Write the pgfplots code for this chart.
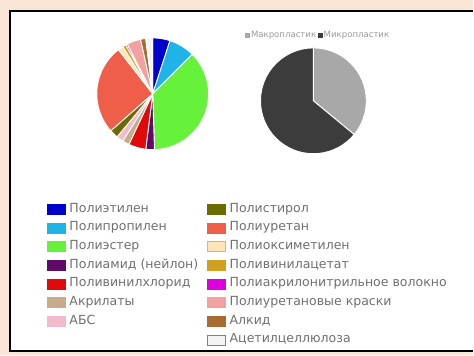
\documentclass[border=0pt]{standalone}
\usepackage{pgfplots}
\pgfplotsset{compat=1.18}
\usepackage{pgfplotstable}
\usepackage{fontspec}
\setmainfont{DejaVu Sans}
\definecolor{peach}{HTML}{FBE5D6}
\definecolor{txt}{HTML}{707070}
\definecolor{pc1}{HTML}{0000CC}
\definecolor{pc2}{HTML}{1EB4E8}
\definecolor{pc3}{HTML}{66F23A}
\definecolor{pc4}{HTML}{5E0A66}
\definecolor{pc5}{HTML}{E00A0A}
\definecolor{pc6}{HTML}{C8AA8C}
\definecolor{pc7}{HTML}{F2BACA}
\definecolor{pc8}{HTML}{6B6B00}
\definecolor{pc9}{HTML}{EF5E48}
\definecolor{pc10}{HTML}{FFE4B8}
\definecolor{pc11}{HTML}{D2A021}
\definecolor{pc12}{HTML}{DD00DD}
\definecolor{pc13}{HTML}{F3A0A0}
\definecolor{pc14}{HTML}{A66C34}
\definecolor{pc15}{HTML}{F4F4F4}
\definecolor{pc16}{HTML}{A8A8A8}
\definecolor{pc17}{HTML}{3C3C3C}
\pgfdeclareplotmark{nothing}{}
% left pie: value (%), cumulative start (%), colour index
\pgfplotstableread{
cx  cy  r  start value col
153 262 56 0     5     1
153 262 56 5     7.5   2
153 262 56 12.5  37    3
153 262 56 49.5  2.5   4
153 262 56 52    5     5
153 262 56 57    2     6
153 262 56 59    2     7
153 262 56 61    2.5   8
153 262 56 63.5  26    9
153 262 56 89.5  1.5   10
153 262 56 91    1     11
153 262 56 92    0.5   12
153 262 56 92.5  4     13
153 262 56 96.5  1.5   14
153 262 56 98    2     15
}\leftpie
% right pie
\pgfplotstableread{
cx  cy  r  start value col
314 255 53 0     36    16
314 255 53 36    64    17
}\rightpie
\pgfplotsset{
  pieslices/.style={
    scatter, only marks, mark=nothing, forget plot,
    visualization depends on={\thisrow{start} \as \sS},
    visualization depends on={\thisrow{value} \as \vV},
    visualization depends on={\thisrow{r} \as \rR},
    visualization depends on={\thisrow{col} \as \cC},
    scatter/@pre marker code/.code={%
      \pgfmathsetmacro\aS{90-3.6*\sS}%
      \pgfmathsetmacro\aE{90-3.6*(\sS+\vV)}%
      \pgfmathtruncatemacro\ci{\cC}%
      \fill[fill=pc\ci, draw=white, line width=0.9bp, line join=round]
        (0,0) -- (\aS:\rR bp) arc[start angle=\aS, end angle=\aE, radius=\rR bp] -- cycle;
    },
    scatter/@post marker code/.code={},
  },
  base/.style={
    at={(0,0)}, anchor=south west, width=474bp, height=356bp, scale only axis,
    xmin=0, xmax=474, ymin=0, ymax=356, hide axis, clip=false,
  },
}
\begin{document}
\begin{tikzpicture}[x=1bp,y=1bp]
\fill[peach] (0,0) rectangle (474,356);
\fill[white] (10,4) rectangle (474,345);
\draw[black, line width=1.8bp] (474,345) -- (10,345) -- (10,4) -- (474,4);
\begin{axis}[base,
  legend image code/.code={\draw[#1] (0bp,-5bp) rectangle (18bp,5bp);},
  legend cell align=left,
  legend columns=2,
  legend style={at={(47/474,152.5/356)}, anchor=north west, draw=none, fill=none,
    inner sep=0pt, font=\fontsize{12.6}{14}\selectfont, text=txt,
    nodes={inner sep=0pt, text height=9bp, text depth=3bp},
    row sep=6.7bp, column sep=4bp,
    /tikz/every even column/.append style={column sep=9bp}},
]
\addplot[pieslices] table[x=cx, y=cy] {\leftpie};
\addlegendimage{fill=pc1, draw=pc1}\addlegendentry{Полиэтилен}
\addlegendimage{fill=pc8, draw=pc8}\addlegendentry{Полистирол}
\addlegendimage{fill=pc2, draw=pc2}\addlegendentry{Полипропилен}
\addlegendimage{fill=pc9, draw=pc9}\addlegendentry{Полиуретан}
\addlegendimage{fill=pc3, draw=pc3}\addlegendentry{Полиэстер}
\addlegendimage{fill=pc10, draw=pc10!80!black}\addlegendentry{Полиоксиметилен}
\addlegendimage{fill=pc4, draw=pc4}\addlegendentry{Полиамид (нейлон)}
\addlegendimage{fill=pc11, draw=pc11}\addlegendentry{Поливинилацетат}
\addlegendimage{fill=pc5, draw=pc5}\addlegendentry{Поливинилхлорид}
\addlegendimage{fill=pc12, draw=pc12}\addlegendentry{Полиакрилонитрильное волокно}
\addlegendimage{fill=pc6, draw=pc6}\addlegendentry{Акрилаты}
\addlegendimage{fill=pc13, draw=pc13}\addlegendentry{Полиуретановые краски}
\addlegendimage{fill=pc7, draw=pc7}\addlegendentry{АБС}
\addlegendimage{fill=pc14, draw=pc14}\addlegendentry{Алкид}
\addlegendimage{empty legend}\addlegendentry{}
\addlegendimage{fill=pc15, draw=gray}\addlegendentry{Ацетилцеллюлоза}
\end{axis}
\begin{axis}[base,
  legend image code/.code={\draw[#1] (0bp,-2bp) rectangle (4bp,2bp);},
  legend columns=2,
  legend style={at={(318/474,321/356)}, anchor=center, draw=none, fill=none,
    inner sep=0pt, font=\fontsize{8.6}{10}\selectfont, text=txt!70,
    nodes={inner sep=0.6bp}, column sep=1bp},
]
\addplot[pieslices] table[x=cx, y=cy] {\rightpie};
\addlegendimage{fill=pc16, draw=pc16}\addlegendentry{Макропластик}
\addlegendimage{fill=pc17, draw=pc17}\addlegendentry{Микропластик}
\end{axis}
\end{tikzpicture}
\end{document}
